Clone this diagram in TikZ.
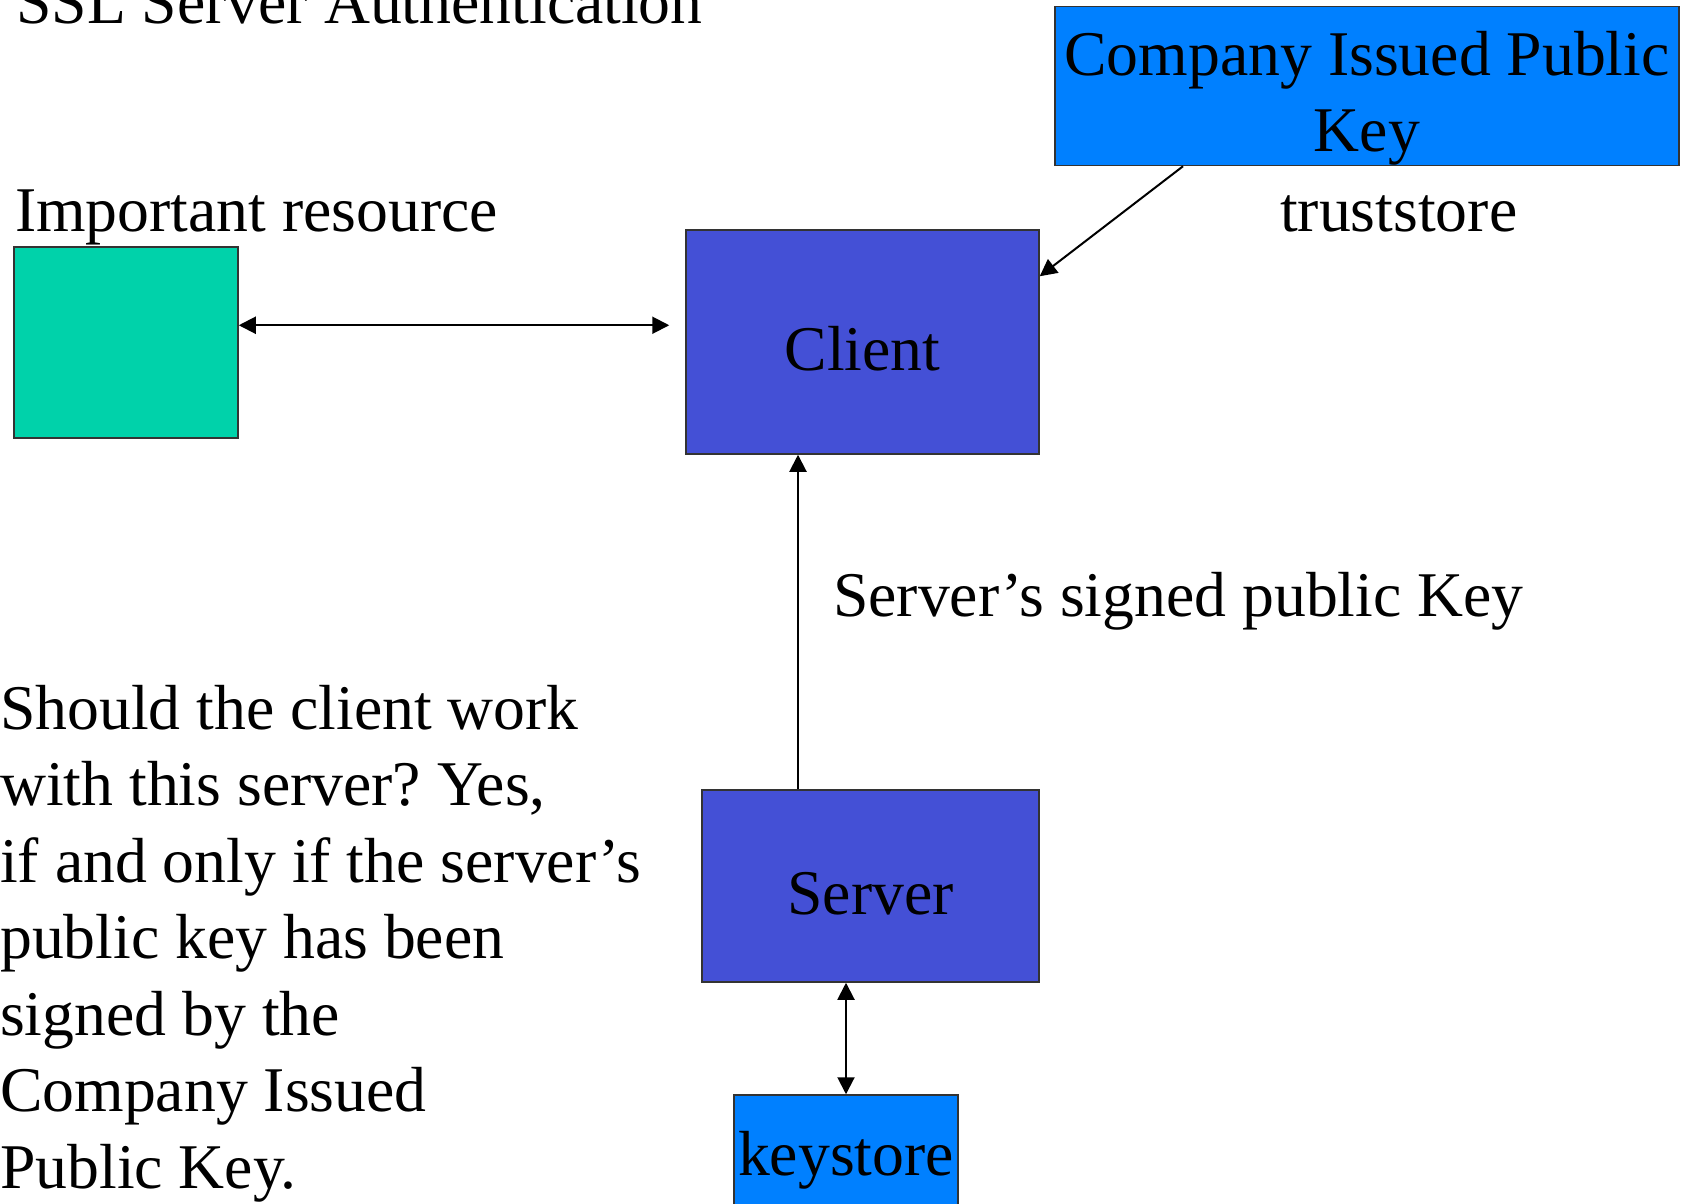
\documentclass[tikz,border=0pt]{standalone}
\usepackage{fontspec}
\setmainfont{Liberation Serif}
\usetikzlibrary{arrows.meta,calc}
\definecolor{resgreen}{RGB}{0,210,170}
\definecolor{nodeblue}{RGB}{68,80,214}
\definecolor{keyblue}{RGB}{0,128,255}
\frenchspacing
\begin{document}
\begin{tikzpicture}[x=1pt,y=-1pt,
  every node/.style={font=\fontsize{63.7}{76.5}\selectfont, inner sep=0pt},
  box/.style={draw=black!80, line width=1.5pt},
  arr/.style={line width=2pt, -{Triangle[length=17pt,width=17pt]}},
  dbl/.style={line width=2pt, {Triangle[length=17pt,width=17pt]}-{Triangle[length=17pt,width=17pt]}},
  lbl/.style={anchor=base west}]
\useasboundingbox (0,0) rectangle (1686,1204);
\clip (0,0) rectangle (1686,1204);
\fill[white] (0,0) rectangle (1686,1204);
% boxes
\node[box, fill=resgreen, minimum width=224pt, minimum height=191pt] (res) at (126,342.5) {};
\node[box, fill=nodeblue, minimum width=353pt, minimum height=224pt, text height=57pt, text depth=0pt] (client) at (862.5,342) {Client};
\node[box, fill=nodeblue, minimum width=337pt, minimum height=192pt, text height=57pt, text depth=0pt] (server) at (870.5,886) {Server};
\node[box, fill=keyblue, minimum width=224pt, minimum height=130pt] (keystore) at (846,1160) {keystore};
\node[box, fill=keyblue, minimum width=624pt, minimum height=159pt] (company) at (1367,86) {};
\node[align=center, anchor=base] (companytxt) at (1367,151.5) {Company Issued Public\\Key};
% labels
\node[lbl] (title) at (16,23.7) {SSL Server Authentication};
\node[lbl] (imp) at (15,231) {Important resource};
\node[lbl] (trust) at (1280,231) {truststore};
\node[lbl] (signed) at (833,616) {Server’s signed public Key};
\node[lbl, align=left] (question) at (0,1188) {Should the client work\\with this server? Yes,\\if and only if the server’s\\public key has been\\signed by the\\Company Issued\\Public Key.};
% connectors
\coordinate (up) at ($(server.north)+(-72.5,0)$);
\draw[dbl] ($(res.north east)+(0,79)$) -- ($(client.north west)+(-16,96)$);
\draw[arr] ($(company.south)+(-184,0)$) -- ($(client.north east)+(0,47)$);
\draw[arr] (up) -- (up |- client.south);
\draw[dbl] (keystore.north |- server.south) -- (keystore.north);
\end{tikzpicture}
\end{document}
